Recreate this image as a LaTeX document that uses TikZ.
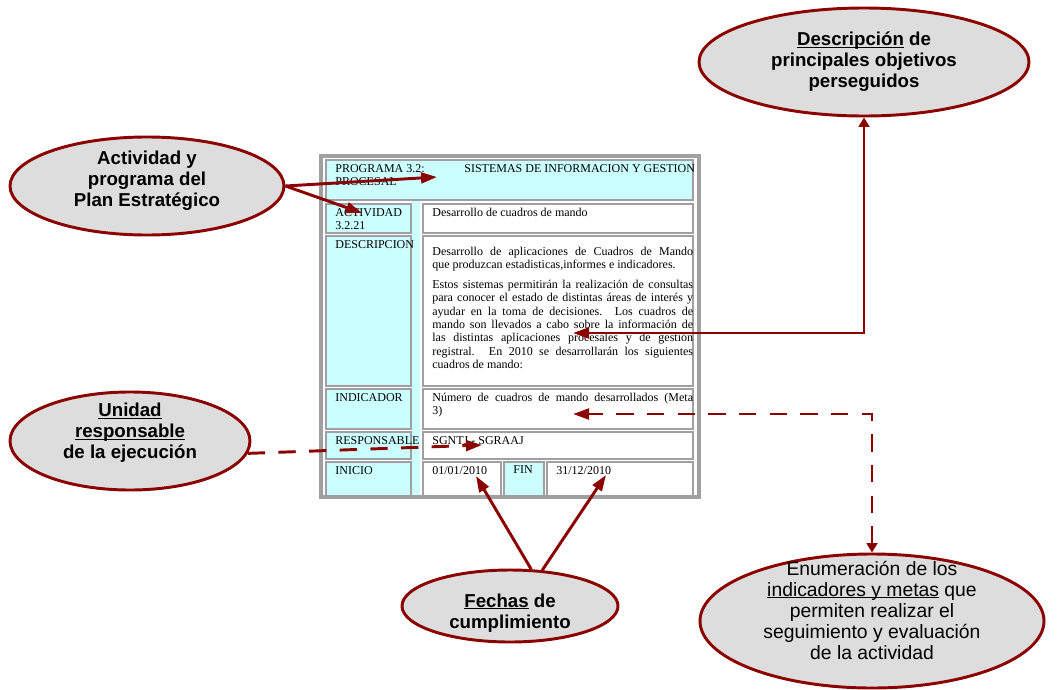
\documentclass[tikz,border=0pt]{standalone}
\usepackage{fontspec}
\setmainfont{Liberation Serif}
\newfontfamily\elfont{Liberation Sans}
\usetikzlibrary{shapes.geometric,arrows.meta}

\definecolor{tcyan}{RGB}{204,255,255}
\definecolor{tgray}{RGB}{160,160,160}
\definecolor{egray}{RGB}{221,221,221}
\definecolor{dred}{RGB}{139,0,0}

\newlength\tpx \setlength\tpx{0.75pt}
\newcommand{\tabfont}{\fontsize{9}{10}\selectfont}
% celda: ancho, alto (px), texto arriba a la izquierda
\newcommand{\tcell}[3]{\parbox[c][#2\tpx][t]{#1\tpx}{\vspace*{3pt}\leftskip=7pt\relax #3}}
% subrayado pegado a la linea base
\newcommand{\ul}[1]{\setbox0\hbox{#1}\rlap{\rule[-1.6pt]{\wd0}{0.9pt}}\box0\relax}

\tikzset{
  bubble/.style={ellipse, draw=dred, line width=2.2pt, fill=egray, inner sep=0pt},
  btext/.style={align=center, font=\elfont\bfseries\fontsize{14}{15.75}\selectfont},
  ntext/.style={align=center, font=\elfont\fontsize{14.5}{15.75}\selectfont},
  lab/.style={anchor=north west, draw=tgray, line width=1.6pt, fill=tcyan, inner sep=0pt, font=\tabfont},
  val/.style={lab, fill=white},
  conn/.style={dred, line width=2.2pt, -{Triangle[length=12pt,width=8pt]}},
  dconn/.style={conn, dash pattern=on 13pt off 10pt},
  back/.style={{Triangle[length=7pt,width=8pt]}-{Triangle[length=12pt,width=8pt]}},
}

\begin{document}
\begin{tikzpicture}[x=0.75pt,y=-0.75pt]
\useasboundingbox (0,0) rectangle (1060,689);

% tabla del programa
\draw[tgray, line width=2.4pt] (321,156) rectangle (699,497);
\node[anchor=north west, fill=tcyan, inner sep=0pt, minimum width=8\tpx, minimum height=294\tpx] (strip) at (412,201) {};

\node[lab] (rprog) at (325,159) {\tcell{367}{40}{\makebox[129\tpx][l]{PROGRAMA 3.2:}\mbox{SISTEMAS DE INFORMACION Y GESTION}\\PROCESAL}};

\node[lab] (ract) at (325,203) {\tcell{85}{29}{ACTIVIDAD\\3.2.21}};
\node[val] (vact) at (422,203) {\tcell{270}{29}{Desarrollo de cuadros de mando}};

\node[lab] (rdesc) at (325,235) {\tcell{85}{150}{DESCRIPCION}};
\node[val] (vdesc) at (422,235) {\tcell{270}{150}{\vspace*{5pt}Desarrollo de aplicaciones de Cuadros de Mando\linebreak
que produzcan estadisticas,informes e indicadores.\par\vspace{5pt}
Estos sistemas permitirán la realización de consultas\linebreak
para conocer el estado de distintas áreas de interés y\linebreak
ayudar en la toma de decisiones. Los cuadros de\linebreak
mando son llevados a cabo sobre la información de\linebreak
las distintas aplicaciones procesales y de gestión\linebreak
registral. En 2010 se desarrollarán los siguientes\linebreak
cuadros de mando:}};

\node[lab] (rind) at (325,388) {\tcell{85}{40}{INDICADOR}};
\node[val] (vind) at (422,388) {\tcell{270}{40}{Número de cuadros de mando desarrollados (Meta\linebreak 3)}};

\node[lab] (rresp) at (325,431) {\tcell{85}{27}{RESPONSABLE}};
\node[val] (vresp) at (422,431) {\tcell{270}{27}{SGNTJ - SGRAAJ}};

\node[lab] (rini) at (325,461) {\tcell{85}{34}{INICIO}};
\node[val] (vini) at (422,461) {\tcell{78}{34}{01/01/2010}};
\node[lab] (rfin) at (503,461) {\tcell{40}{34}{FIN}};
\node[val] (vfin) at (546,461) {\tcell{146}{34}{31/12/2010}};

% elipses
\node[bubble, minimum width=274\tpx, minimum height=98\tpx,
  label={[btext,yshift=4pt]center:{Actividad y\\programa del\\Plan Estratégico}}] (eact) at (147,186) {};
\node[bubble, minimum width=240\tpx, minimum height=98\tpx,
  label={[btext,yshift=6pt]center:{\ul{Unidad}\\\ul{responsable}\\de la ejecución}}] (eresp) at (130,441) {};
\node[bubble, minimum width=330\tpx, minimum height=108\tpx,
  label={[btext]center:{\ul{Descripción} de\\principales objetivos\\perseguidos}}] (edesc) at (864,62) {};
\node[bubble, minimum width=344\tpx, minimum height=134\tpx,
  label={[ntext,yshift=8pt]center:{Enumeración de los\\\ul{indicadores y metas} que\\permiten realizar el\\seguimiento y evaluación\\de la actividad}}] (eind) at (872,621) {};
\node[bubble, minimum width=216\tpx, minimum height=72\tpx,
  label={[btext,yshift=-5pt]center:{\ul{Fechas} de\\cumplimiento}}] (efech) at (510,606) {};

% puntos de llegada
\coordinate (tprog) at (437,177);
\coordinate (tact) at (362,213);
\coordinate (tdesc) at (573,333);
\coordinate (tind) at (573,414);
\coordinate (tresp) at (482,445);
\coordinate (tfec1) at (476,476);
\coordinate (tfec2) at (606,475);

% flechas
\draw[conn] (eact.east) -- (tprog);
\draw[conn] (eact.east) -- (tact);
\draw[conn, back] (edesc.south) |- (tdesc);
\draw[dconn] (eresp.-6) -- (tresp);
\draw[dconn, back] (eind.north) |- (tind);
\draw[conn] (efech.60) -- (tfec1);
\draw[conn] (efech.48) -- (tfec2);

\end{tikzpicture}
\end{document}
